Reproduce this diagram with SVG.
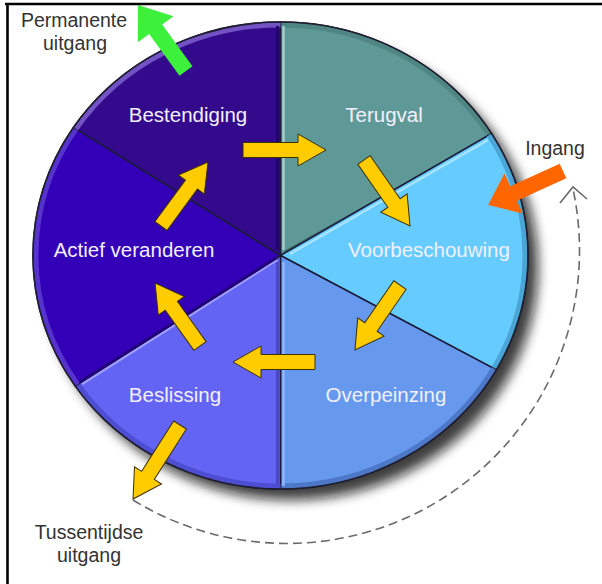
<svg xmlns="http://www.w3.org/2000/svg" width="602" height="584" viewBox="0 0 602 584">
<defs>
<filter id="blur" x="-20%" y="-20%" width="140%" height="140%"><feGaussianBlur stdDeviation="6"/></filter>
<style>
.seg{stroke:#1c1c3a;stroke-width:1.5}
.rim{fill:none;stroke-width:5}
.lbl{font-family:"Liberation Sans",Arial,sans-serif;font-size:20.5px;fill:#f2f0ff;text-anchor:middle}
.ext{font-family:"Liberation Sans",Arial,sans-serif;font-size:19.5px;fill:#333;text-anchor:middle}
.yel{fill:#ffcc00;stroke:#3a3000;stroke-width:1}
.dash{fill:none;stroke:#6a6a6a;stroke-width:1.6;stroke-dasharray:9 5}
</style>
</defs>
<rect width="602" height="584" fill="#fff"/>
<ellipse cx="291" cy="267" rx="247" ry="233" fill="#111" opacity="0.8" filter="url(#blur)"/>

<g id="terugval">
<path class="seg" fill="#5f9997" d="M280.5 255.5 L280.5 22 A247.5 233.5 0 0 1 491.6 133.6 Z"/>
<path class="rim" stroke="#4f8583" d="M280.5 25 A244.5 230.5 0 0 1 489 135.1"/>
<line x1="283.5" y1="26" x2="283.5" y2="250" stroke="#a6cccb" stroke-width="2.5"/>
<line x1="285" y1="252" x2="489" y2="138" stroke="#3c6866" stroke-width="3"/>
<text class="lbl" x="384" y="122">Terugval</text>
</g>
<g id="voorbeschouwing">
<path class="seg" fill="#66ccff" d="M280.5 255.5 L491.6 133.6 A247.5 233.5 0 0 1 496.3 369.9 Z"/>
<path class="rim" stroke="#4aa6d6" d="M489 135.1 A244.5 230.5 0 0 1 493.6 368.5"/>
<line x1="290" y1="254" x2="488" y2="140" stroke="#a8e4ff" stroke-width="2.5"/>
<text class="lbl" x="429" y="257">Voorbeschouwing</text>
</g>
<g id="overpeinzing">
<path class="seg" fill="#6699ee" d="M280.5 255.5 L496.3 369.9 A247.5 233.5 0 0 1 280.5 489 Z"/>
<path class="rim" stroke="#4d78c8" d="M493.6 368.5 A244.5 230.5 0 0 1 280.5 486"/>
<line x1="283.5" y1="262" x2="283.5" y2="486" stroke="#8fb6ff" stroke-width="2.5"/>
<text class="lbl" x="386" y="402">Overpeinzing</text>
</g>
<g id="beslissing">
<path class="seg" fill="#6464f4" d="M280.5 255.5 L280.5 489 A247.5 233.5 0 0 1 75.2 385.9 Z"/>
<path class="rim" stroke="#4e4ed2" d="M280.5 486 A244.5 230.5 0 0 1 77.7 384.3"/>
<line x1="277" y1="260" x2="82" y2="384" stroke="#a0a0ff" stroke-width="2.5"/>
<line x1="277.5" y1="262" x2="277.5" y2="484" stroke="#4848c0" stroke-width="3"/>
<text class="lbl" x="175" y="402">Beslissing</text>
</g>
<g id="actief-veranderen">
<path class="seg" fill="#3300b8" d="M280.5 255.5 L75.2 385.9 A247.5 233.5 0 0 1 73.6 127.3 Z"/>
<path class="rim" stroke="#5533cc" d="M77.7 384.3 A244.5 230.5 0 0 1 76.1 128.9"/>
<line x1="276" y1="258" x2="80" y2="382" stroke="#22007a" stroke-width="3"/>
<text class="lbl" x="134" y="257">Actief veranderen</text>
</g>
<g id="bestendiging">
<path class="seg" fill="#330a8c" d="M280.5 255.5 L73.6 127.3 A247.5 233.5 0 0 1 280.5 22 Z"/>
<path class="rim" stroke="#7352c4" d="M76.1 128.9 A244.5 230.5 0 0 1 280.5 25"/>
<line x1="277.5" y1="26" x2="277.5" y2="250" stroke="#24066a" stroke-width="3"/>
<text class="lbl" x="188" y="122">Bestendiging</text>
</g>
<ellipse cx="280.5" cy="255.5" rx="247.5" ry="233.5" fill="none" stroke="#1e1e2e" stroke-width="1.5"/>

<g id="connectors">
<path class="dash" d="M133 500 A293 293 0 0 0 573 189"/>
<polyline points="560,203 573,187 587,199" fill="none" stroke="#6a6a6a" stroke-width="1.6"/>
<path class="yel" transform="translate(243 150)" d="M0 -7.5 L55 -7.5 L55 -16 L83 0 L55 16 L55 7.5 L0 7.5 Z"/>
<path class="yel" transform="translate(364 160) rotate(55.1)" d="M0 -7.5 L52.4 -7.5 L52.4 -16 L80.4 0 L52.4 16 L52.4 7.5 L0 7.5 Z"/>
<path class="yel" transform="translate(400 285) rotate(124.7)" d="M0 -7.5 L51.1 -7.5 L51.1 -16 L79.1 0 L51.1 16 L51.1 7.5 L0 7.5 Z"/>
<path class="yel" transform="translate(315 362) rotate(180)" d="M0 -7.5 L54 -7.5 L54 -16 L82 0 L54 16 L54 7.5 L0 7.5 Z"/>
<path class="yel" transform="translate(200 346) rotate(-125.5)" d="M0 -7.5 L49.4 -7.5 L49.4 -16 L77.4 0 L49.4 16 L49.4 7.5 L0 7.5 Z"/>
<path class="yel" transform="translate(161 226) rotate(-53.7)" d="M0 -7.5 L51.4 -7.5 L51.4 -16 L79.4 0 L51.4 16 L51.4 7.5 L0 7.5 Z"/>
<path class="yel" transform="translate(180 425) rotate(122.4)" d="M0 -7.5 L59.7 -7.5 L59.7 -16 L87.7 0 L59.7 16 L59.7 7.5 L0 7.5 Z"/>
<path fill="#3cf03c" transform="translate(186 71) rotate(-126)" d="M0 -8 L51.6 -8 L51.6 -22 L81.6 0 L51.6 22 L51.6 8 L0 8 Z"/>
<path fill="#ff6600" transform="translate(563 171) rotate(155.6)" d="M0 -8 L54.3 -8 L54.3 -22 L82.3 0 L54.3 22 L54.3 8 L0 8 Z"/>
</g>

<g id="permanente-uitgang">
<text class="ext" x="74" y="27">Permanente</text>
<text class="ext" x="75" y="50">uitgang</text>
</g>
<g id="ingang">
<text class="ext" x="555" y="155">Ingang</text>
</g>
<g id="tussentijdse-uitgang">
<text class="ext" x="89" y="539">Tussentijdse</text>
<text class="ext" x="89" y="562">uitgang</text>
</g>
<line x1="5" y1="4" x2="602" y2="4" stroke="#000" stroke-width="2.6"/>
<line x1="7.5" y1="3" x2="7.5" y2="584" stroke="#000" stroke-width="2.6"/>
</svg>
